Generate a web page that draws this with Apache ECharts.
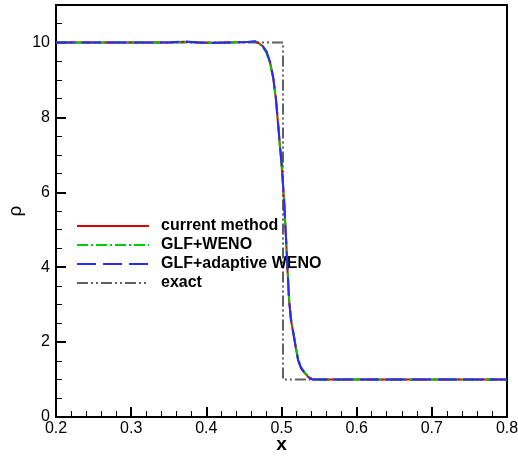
<!DOCTYPE html>
<html>
<head>
<meta charset="utf-8">
<script src="https://cdn.jsdelivr.net/npm/echarts@6/dist/echarts.min.js"></script>
<style>
html,body{margin:0;padding:0;background:#fff;}
#chart{width:518px;height:456px;}
</style>
</head>
<body>
<div id="chart"></div>
<script>
// Data
const xNum = [0.2, 0.25, 0.3, 0.35, 0.37, 0.39, 0.40, 0.43, 0.455, 0.465, 0.47, 0.475, 0.48, 0.485, 0.489, 0.4925, 0.4957, 0.498, 0.500, 0.5036, 0.5067, 0.510, 0.5125, 0.5156, 0.519, 0.522, 0.526, 0.531, 0.536, 0.542, 0.55, 0.6, 0.7, 0.8];
const rhoCurrent = [10, 10, 10, 10, 10.02, 10, 9.99, 10, 10.01, 10.02, 9.98, 9.9, 9.75, 9.45, 9.05, 8.5, 7.76, 7.2, 6.78, 5.71, 4.47, 3.13, 2.6, 2.24, 1.85, 1.52, 1.3, 1.17, 1.06, 1.0, 1.0, 1.0, 1.0, 1.0];
const rhoGLF = [10, 10, 10, 10, 10.01, 10, 9.98, 10, 10.01, 10.02, 9.97, 9.88, 9.72, 9.42, 9.02, 8.48, 7.74, 7.18, 6.8, 5.75, 4.52, 3.2, 2.66, 2.3, 1.9, 1.56, 1.33, 1.19, 1.07, 1.01, 1.0, 1.0, 1.0, 1.0];
const rhoAdaptive = [10, 10, 10, 10, 10.03, 10, 9.98, 10, 10.01, 10.03, 9.98, 9.9, 9.76, 9.47, 9.07, 8.53, 7.8, 7.24, 6.82, 5.74, 4.5, 3.16, 2.62, 2.26, 1.86, 1.53, 1.31, 1.17, 1.06, 1.0, 1.0, 1.0, 1.0, 1.0];
const xExact = [0.2, 0.502, 0.502, 0.8];
const rhoExact = [10, 10, 1, 1];
const seriesNames = ['current method', 'GLF+WENO', 'GLF+adaptive WENO', 'exact'];
const xTicks = [0.2, 0.3, 0.4, 0.5, 0.6, 0.7, 0.8];
const yTicks = [0, 2, 4, 6, 8, 10];

const zip = (xs, ys) => xs.map((x, i) => [x, ys[i]]);

const chart = echarts.init(document.getElementById('chart'), null, {renderer: 'canvas'});
const axisFont = {fontFamily: 'Liberation Sans, Arial, sans-serif', fontSize: 16, color: '#000'};

chart.setOption({
  animation: false,
  backgroundColor: '#fff',
  grid: {left: 56, right: 11, top: 5, bottom: 39, containLabel: false, outerBoundsMode: 'none', show: true, borderColor: '#000', borderWidth: 2, backgroundColor: 'transparent'},
  legend: {
    data: seriesNames,
    orient: 'vertical',
    left: 76,
    top: 218,
    padding: 0,
    itemWidth: 72,
    itemHeight: 14,
    itemGap: 3,
    itemStyle: {opacity: 0},
    textStyle: {fontFamily: 'Liberation Sans, Arial, sans-serif', fontWeight: 'bold', fontSize: 16, color: '#000', padding: [0, 0, 0, 7]}
  },
  xAxis: {
    type: 'value', min: 0.2, max: 0.8, interval: 0.1,
    name: 'x', nameLocation: 'middle', nameGap: 18, nameMoveOverlap: false,
    nameTextStyle: {fontFamily: 'Liberation Sans, Arial, sans-serif', fontWeight: 'bold', fontSize: 19, color: '#000'},
    axisLine: {lineStyle: {color: '#000', width: 2}},
    axisTick: {inside: true, length: 10, lineStyle: {color: '#000', width: 2}},
    minorTick: {show: true, splitNumber: 5, length: 6, lineStyle: {color: '#000', width: 1}},
    axisLabel: {...axisFont, margin: 4, formatter: v => xTicks.some(t => Math.abs(t - v) < 1e-9) ? v.toFixed(1) : ''},
    splitLine: {show: false}
  },
  yAxis: {
    type: 'value', min: 0, max: 11, interval: 2,
    name: 'ρ', nameLocation: 'middle', nameGap: 31, nameMoveOverlap: false,
    nameTextStyle: {fontFamily: 'Liberation Sans, Arial, sans-serif', fontSize: 19, color: '#000'},
    axisLine: {lineStyle: {color: '#000', width: 2}},
    axisTick: {inside: true, length: 10, lineStyle: {color: '#000', width: 2}},
    minorTick: {show: true, splitNumber: 4, length: 6, lineStyle: {color: '#000', width: 1}},
    axisLabel: {...axisFont, margin: 6, formatter: v => yTicks.includes(v) ? String(v) : ''},
    splitLine: {show: false}
  },
  series: [
    {name: seriesNames[3], type: 'line', data: zip(xExact, rhoExact), showSymbol: false, symbol: 'none', z: 2,
     lineStyle: {color: '#606060', width: 2, type: [11, 3, 2, 3, 2, 3]}, itemStyle: {color: '#606060'}},
    {name: seriesNames[0], type: 'line', data: zip(xNum, rhoCurrent), showSymbol: false, symbol: 'none', z: 3,
     lineStyle: {color: '#e00000', width: 2, type: 'solid'}, itemStyle: {color: '#e00000'}},
    {name: seriesNames[1], type: 'line', data: zip(xNum, rhoGLF), showSymbol: false, symbol: 'none', z: 4,
     lineStyle: {color: '#00cc00', width: 2, type: [11, 3, 2, 3]}, itemStyle: {color: '#00cc00'}},
    {name: seriesNames[2], type: 'line', data: zip(xNum, rhoAdaptive), showSymbol: false, symbol: 'none', z: 5,
     lineStyle: {color: '#2a2aff', width: 2, type: [19, 7]}, itemStyle: {color: '#2a2aff'}}
  ]
});
</script>
</body>
</html>
